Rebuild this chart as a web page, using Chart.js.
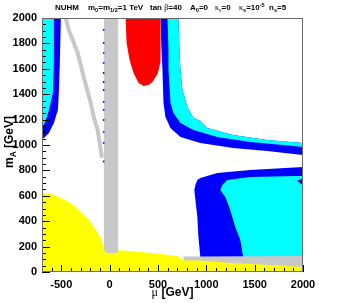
<!DOCTYPE html>
<html><head><meta charset="utf-8">
<script src="https://cdn.jsdelivr.net/npm/chart.js@4"></script>
<style>html,body{margin:0;padding:0;background:#fff;overflow:hidden}canvas{display:block}</style>
</head><body>
<canvas id="c" width="352" height="303"></canvas>
<script>
// ---- tick labels ----
const xTickLabels = [-500, 0, 500, 1000, 1500, 2000];
const yTickLabels = [0, 200, 400, 600, 800, 1000, 1200, 1400, 1600, 1800, 2000];

// ---- region boundaries (mu [GeV], mA [GeV]) ----
// left band
const leftBlueMu = [-700, -505, -515, -526, -536, -577, -629, -680, -700];
const leftBlueMA = [2000, 2000, 1669, 1409, 1276, 1173, 1094, 1055, 1055];
const leftCyanMu = [-700, -577, -577, -588, -629, -670, -700];
const leftCyanMA = [2000, 2000, 1669, 1409, 1276, 1173, 1142];
// upper right band edges
const blueEdgeMu = [526, 536, 546, 557, 577, 629, 732, 938, 1278, 1629, 2000];
const blueEdgeMA = [2000, 1748, 1591, 1331, 1220, 1134, 1063, 1016, 976, 953, 921];
const splitEdgeMu = [598, 608, 608, 629, 660, 732, 866, 1113, 1454, 1794, 2000];
const splitEdgeMA = [2000, 1748, 1591, 1331, 1252, 1173, 1118, 1063, 1024, 1000, 984];
const cyanEdgeMu = [711, 722, 732, 753, 804, 866, 938, 1010, 1278, 1629, 2000];
const cyanEdgeMA = [2000, 1748, 1591, 1433, 1299, 1213, 1190, 1134, 1079, 1039, 1016];
// red region
const redMu = [165, 175, 206, 247, 299, 351, 402, 443, 495, 526, 526];
const redMA = [2000, 1803, 1669, 1567, 1488, 1465, 1472, 1496, 1559, 1654, 2000];
// lower right regions
const lowBlueMu = [876, 887, 907, 938, 1113, 1454, 2000, 2000, 938, 938, 918, 907, 887];
const lowBlueMA = [646, 685, 724, 740, 780, 803, 827, 60, 60, 118, 276, 433, 567];
const lowCyanMu = [1144, 1165, 1216, 1454, 1918, 2000, 2000, 1938, 2000, 2000, 1381, 1381, 1351, 1299, 1247, 1196];
const lowCyanMA = [646, 685, 724, 748, 756, 756, 740, 717, 685, 60, 60, 118, 252, 354, 488, 591];
// grey regions
const greyBandMu = [763, 938, 2000, 2000, 763];
const greyBandMA = [122, 122, 126, 0, 0];
const greyColMu = [-60, 88, 88, 70, -30, -60];
const greyColMA = [2000, 2000, 165, 150, 150, 175];
const greyDiagMu = [-454, -423, -330, -268, -196, -165, -124, -93, -80];
const greyDiagMA = [2000, 1906, 1724, 1535, 1331, 1220, 1118, 961, 900];
// yellow region
const yellowMu = [-700, -608, -505, -402, -299, -216, -144, -93, -62, -31, 82, 320, 526, 700, 763, 938, 1247, 1660, 2000, 2000, -700];
const yellowMA = [622, 614, 583, 543, 472, 409, 331, 268, 197, 150, 173, 157, 142, 126, 90, 90, 71, 55, 39, 0, 0];
// small blue dots along grey column
const dotMu = [-62, -62, -62, -62, -62, -62, -62, -62, -62, -62, -62, -62, -62, -62];
const dotMA = [2000, 1906, 1803, 1724, 1646, 1567, 1496, 1433, 1339, 1276, 1197, 1102, 1016, 870];

const pts = (mu, ma) => mu.map((v, i) => ({x: v, y: ma[i]}));
const rev = a => a.slice().reverse();

const BLUE = '#0000ff', CYAN = '#00ffff', RED = '#ff0000', GREY = '#c8c8c8', YEL = '#ffff00';
function poly(mu, ma, color) {
  return {data: pts(mu, ma), showLine: true, fill: 'shape', backgroundColor: color,
          borderWidth: 0, borderColor: color, pointRadius: 0, clip: 0};
}

const datasets = [
  {data: pts(dotMu, dotMA), showLine: false, pointRadius: 0.9, pointBackgroundColor: BLUE, pointBorderWidth: 0, clip: 0},
  {data: pts(greyDiagMu, greyDiagMA), showLine: true, fill: false, borderColor: GREY, borderWidth: 4, pointRadius: 0, clip: 0},
  poly(greyColMu, greyColMA, GREY),
  poly(yellowMu, yellowMA, YEL),
  poly(greyBandMu, greyBandMA, GREY),
  poly(lowCyanMu, lowCyanMA, CYAN),
  poly(lowBlueMu, lowBlueMA, BLUE),
  poly(redMu, redMA, RED),
  poly(splitEdgeMu.concat(rev(cyanEdgeMu)), splitEdgeMA.concat(rev(cyanEdgeMA)), CYAN),
  poly(blueEdgeMu.concat(rev(cyanEdgeMu)), blueEdgeMA.concat(rev(cyanEdgeMA)), BLUE),
  poly(leftCyanMu, leftCyanMA, CYAN),
  poly(leftBlueMu, leftBlueMA, BLUE)
];

const FONT = 'Liberation Sans';
const GREEK = 'Liberation Serif';

function segFont(s, size) {
  const sz = (s.sub || s.sup) ? size * 0.7 : size;
  const fam = s.g ? GREEK : FONT;
  const wt = s.g ? 'normal' : 'bold';
  return `${wt} ${sz}px "${fam}"`;
}
function richWidth(ctx, segs, size) {
  let w = 0;
  for (const s of segs) { ctx.font = segFont(s, size); w += ctx.measureText(s.t).width; }
  return w;
}
function drawRich(ctx, segs, x, y, size) {
  let cx = x;
  for (const s of segs) {
    ctx.font = segFont(s, size);
    const dy = s.sub ? size * 0.3 : s.sup ? -size * 0.42 : 0;
    ctx.fillText(s.t, cx, y + dy);
    cx += ctx.measureText(s.t).width;
  }
}

const decor = {
  id: 'decor',
  afterDatasetsDraw(chart) {
    const {ctx, chartArea: a, scales: {x, y}} = chart;
    ctx.save();
    ctx.strokeStyle = '#000';
    ctx.lineWidth = 1;
    ctx.beginPath();
    for (let v = 0; v <= 2000; v += 50) {
      const py = Math.round(y.getPixelForValue(v)) + 0.5;
      const len = v % 200 === 0 ? 8 : 4;
      ctx.moveTo(a.left, py); ctx.lineTo(a.left + len, py);
    }
    for (let v = -700; v <= 2000; v += 100) {
      const px = Math.round(x.getPixelForValue(v)) + 0.5;
      const len = v % 500 === 0 ? 7 : 4;
      ctx.moveTo(px, a.bottom); ctx.lineTo(px, a.bottom - len);
    }
    ctx.stroke();
    ctx.strokeStyle = '#6a6a6a';
    ctx.strokeRect(Math.round(a.left) + 0.5, Math.round(a.top) + 0.5,
                   Math.round(a.right - a.left) - 1, Math.round(a.bottom - a.top) - 1);
    ctx.restore();
  },
  afterDraw(chart) {
    const {ctx, chartArea: a} = chart;
    ctx.save();
    ctx.fillStyle = '#000';
    ctx.textBaseline = 'alphabetic';
    const hs = 8;
    const header = [
      [55, [{t: 'NUHM'}]],
      [88, [{t: 'm'}, {t: '0', sub: 1}, {t: '=m'}, {t: '1/2', sub: 1}, {t: '=1 TeV'}]],
      [150, [{t: 'tan '}, {t: 'β', g: 1}, {t: '=40'}]],
      [190, [{t: 'A'}, {t: '0', sub: 1}, {t: '=0'}]],
      [215, [{t: 'κ', g: 1}, {t: 'ν', g: 1, sub: 1}, {t: '=0'}]],
      [239, [{t: 'κ', g: 1}, {t: 's', sub: 1}, {t: '=10'}, {t: '-5', sup: 1}]],
      [269, [{t: 'n'}, {t: 's', sub: 1}, {t: '=5'}]]
    ];
    for (const [hx, segs] of header) drawRich(ctx, segs, hx, 10, hs);
    const ts = 12;
    const xt = [{t: 'μ', g: 1}, {t: ' [GeV]'}];
    const xw = richWidth(ctx, xt, ts);
    drawRich(ctx, xt, (a.left + a.right) / 2 - xw / 2, 296, ts);
    const yt = [{t: 'm'}, {t: 'A', sub: 1}, {t: ' [GeV]'}];
    const yw = richWidth(ctx, yt, ts);
    ctx.translate(12.5, 142);
    ctx.rotate(-Math.PI / 2);
    drawRich(ctx, yt, -yw / 2, 0, ts);
    ctx.restore();
  }
};

const tickFont = {family: FONT, weight: 'bold', size: 11};
const fmt = v => String(v);
new Chart(document.getElementById('c'), {
  type: 'scatter',
  data: {datasets},
  options: {
    responsive: false, animation: false, devicePixelRatio: 1,
    layout: {padding: {left: 0, right: 49, top: 18, bottom: 0}},
    plugins: {legend: {display: false}, tooltip: {enabled: false}},
    scales: {
      x: {
        type: 'linear', min: -700, max: 2000,
        afterBuildTicks: s => { s.ticks = xTickLabels.map(v => ({value: v})); },
        afterFit: s => { s.height = 31; },
        grid: {display: false, drawTicks: false}, border: {display: false},
        ticks: {font: tickFont, color: '#000', padding: 6, maxRotation: 0, autoSkip: false, callback: fmt}
      },
      y: {
        type: 'linear', min: 0, max: 2000,
        afterBuildTicks: s => { s.ticks = yTickLabels.map(v => ({value: v})); },
        afterFit: s => { s.width = 42; },
        grid: {display: false, drawTicks: false}, border: {display: false},
        ticks: {font: tickFont, color: '#000', padding: 5, autoSkip: false, callback: fmt}
      }
    }
  },
  plugins: [decor]
});
</script>
</body></html>
